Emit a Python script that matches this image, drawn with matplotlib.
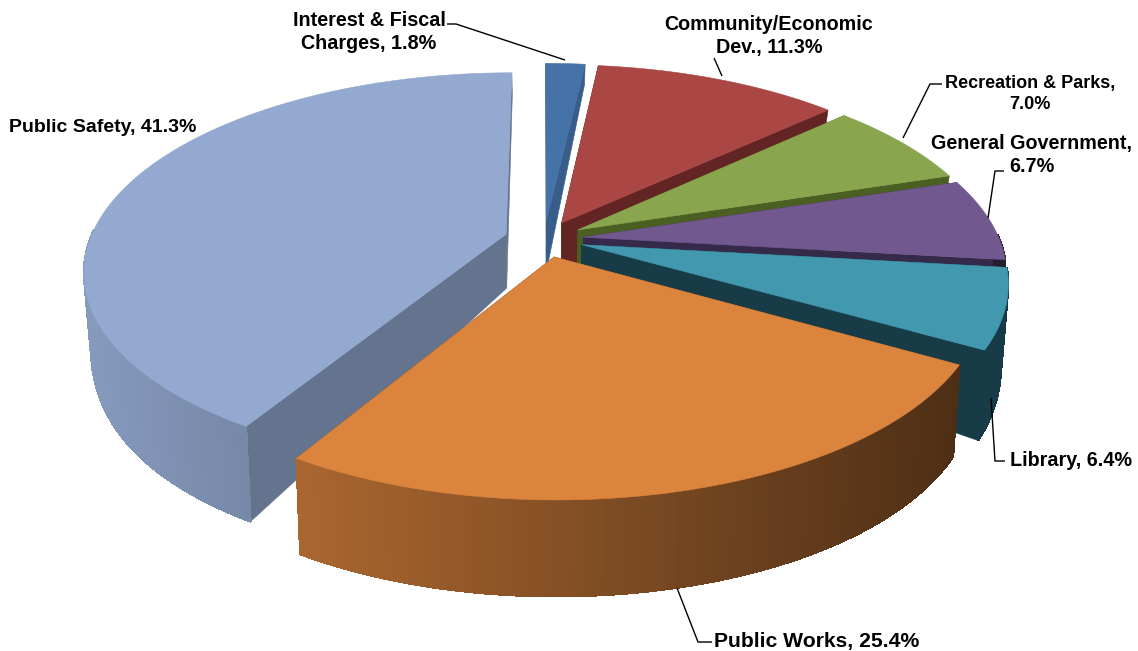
import numpy as np
import matplotlib
matplotlib.use("Agg")
import matplotlib.pyplot as plt
from matplotlib.patches import Polygon

plt.rcParams['font.family'] = ['Liberation Sans', 'DejaVu Sans']

# clockwise from twelve o'clock
categories = ["Interest & Fiscal\nCharges", "Community/Economic\nDev.", "Recreation & Parks,\n",
              "General Government,\n", "Library", "Public Works", "Public Safety"]
shares = [1.8, 11.3, 7.0, 6.7, 6.4, 25.4, 41.3]
face_colors = ["#4572a7", "#aa4643", "#89a54e", "#71588f", "#4198af", "#db843d", "#93a9cf"]
cut_colors = ["#385d8a", "#632523", "#4b5f22", "#362a4a", "#173c48", "#5a3415", "#64748f"]

# pie geometry, in pixels of the finished figure
cx, cy = 544, 239
rx, ry = 416, 192
persp = 0.18
explode = 0.095
draw_order = [0, 1, 2, 3, 4, 6, 5]


def top(u, v):
    d = 1 - persp * v
    return cx + rx * u / d, cy + ry * v / d


def wall_depth(y):
    rel = y - cy
    return np.where(rel > 0, 97 - 42 * np.exp(-rel / 60), 55 + 0.2 * rel)


def bottom(u, v):
    x, y = top(u, v)
    return cx + (x - cx) * 0.985, y + wall_depth(y)


def wall_shade(x):
    return np.clip(0.9 - 0.54 * (x - 100) / 850, 0.3, 1)


def darken(color, f):
    return tuple(c * f for c in matplotlib.colors.to_rgb(color))


fig = plt.figure(figsize=(11.38, 6.51), dpi=100)
ax = fig.add_axes([0, 0, 1, 1])
ax.set_xlim(0, 1138)
ax.set_ylim(651, 0)
ax.axis("off")

edges = np.concatenate([[0], np.cumsum(shares)])
edges = edges / edges[-1] * 2 * np.pi

for layer, i in enumerate(draw_order):
    t0, t1 = edges[i], edges[i + 1]
    mid = (t0 + t1) / 2
    ou, ov = explode * np.sin(mid), -explode * np.cos(mid)
    t = np.linspace(t0, t1, max(8, int((t1 - t0) * 120)))
    u = ou + np.sin(t)
    v = ov - np.cos(t)
    tx, ty = top(u, v)
    bx, by = bottom(u, v)
    ax0, ay0 = top(ou, ov)
    bx0, by0 = bottom(ou, ov)
    z = layer * 3

    # the two straight cut faces
    for j in (0, -1):
        pts = [(ax0, ay0), (tx[j], ty[j]), (bx[j], by[j]), (bx0, by0)]
        ax.add_patch(Polygon(pts, closed=True, fc=cut_colors[i], ec=cut_colors[i], lw=0.4, zorder=z + 1))

    # rounded outer wall, only the part turned towards the viewer
    for k in range(len(tx) - 1):
        if -np.cos(t[k]) < -0.02:
            continue
        mx = (tx[k] + tx[k + 1]) / 2
        col = cut_colors[i] if i == 4 else darken(face_colors[i], wall_shade(mx))
        pts = [(tx[k], ty[k]), (tx[k + 1], ty[k + 1]), (bx[k + 1], by[k + 1]), (bx[k], by[k])]
        ax.add_patch(Polygon(pts, closed=True, fc=col, ec=col, lw=0.8, antialiased=False, zorder=z + 2))

    # top surface
    pts = [(ax0, ay0)] + list(zip(tx, ty))
    ax.add_patch(Polygon(pts, closed=True, fc=face_colors[i], ec=face_colors[i], lw=0.4, zorder=z + 3))

# data labels with leader lines
label_style = dict(fontweight="bold", color="black", zorder=50, linespacing=1.27)
text_pos = [(369, 32), (769, 36), (1030, 94), (1032, 155), (1071, 461), (817, 642), (103, 127)]
text_size = [14.2, 14.2, 13.0, 14.2, 14.2, 15.2, 14.0]
for i, (x, y) in enumerate(text_pos):
    name = categories[i]
    if name.endswith("\n"):
        txt = f"{name}{shares[i]:.1f}%"
    else:
        txt = f"{name}, {shares[i]:.1f}%"
    ax.text(x, y, txt, ha="center", va="center", fontsize=text_size[i], **label_style)

leaders = [
    [(447, 24), (456, 24), (565, 60)],
    [(714, 58), (722, 76)],
    [(942, 84), (930, 84), (903, 138)],
    [(1004, 171), (995, 171), (988, 218)],
    [(1005, 461), (995, 461), (991, 398)],
    [(712, 642), (698, 642), (677, 588)],
]
for line in leaders:
    xs, ys = zip(*line)
    ax.plot(xs, ys, color="black", lw=1.0, zorder=40, solid_capstyle="butt")

fig.savefig("out.png", dpi=100, facecolor="white")
